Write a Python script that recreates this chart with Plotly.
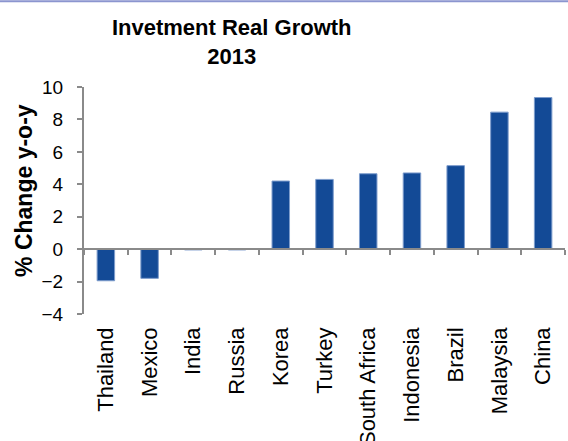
import plotly.graph_objects as go

countries = ["Thailand", "Mexico", "India", "Russia", "Korea", "Turkey",
             "South Africa", "Indonesia", "Brazil", "Malaysia", "China"]
growth = [-1.95, -1.8, -0.05, -0.05, 4.2, 4.3, 4.65, 4.7, 5.15, 8.45, 9.35]

y_min, y_max = -4, 10
axis_grey = "#8a8a8a"
font = "Liberation Sans, Arial, sans-serif"

fig = go.Figure()
fig.add_trace(go.Bar(
    x=countries, y=growth,
    marker=dict(color="#134a96", line=dict(color="#7d9ccc", width=1)),
    width=0.4,
))
# helper trace so the zero-level axis has categories
fig.add_trace(go.Scatter(x=countries, y=[0] * len(countries), xaxis="x2",
                         mode="lines", line=dict(width=0),
                         hoverinfo="skip"))

fig.update_layout(
    width=568, height=441,
    margin=dict(l=84, r=3, t=87, b=127),
    paper_bgcolor="white", plot_bgcolor="white",
    showlegend=False,
    font=dict(family=font, color="black"),
    title=dict(text="<b>Invetment Real Growth<br>2013</b>",
               x=0.408, xanchor="center", y=0.92, yanchor="top",
               font=dict(size=22)),
    xaxis=dict(range=[-0.5, len(countries) - 0.5],
               showline=False, ticks="", tickangle=-90, automargin=False,
               tickfont=dict(size=22), ticklabelstandoff=8,
               showgrid=False, zeroline=False),
    xaxis2=dict(overlaying="x", matches="x", anchor="free",
                position=(0 - y_min) / (y_max - y_min), automargin=False,
                showline=True, linecolor=axis_grey, linewidth=2,
                ticks="outside", tickson="boundaries", ticklen=5,
                tickcolor=axis_grey, tickwidth=2,
                showticklabels=False, showgrid=False),
    yaxis=dict(range=[y_min, y_max], dtick=2, showgrid=False, automargin=False,
               zeroline=False, showline=True, linecolor=axis_grey,
               linewidth=2, ticks="outside", ticklen=5,
               tickcolor=axis_grey, tickwidth=2,
               tickfont=dict(size=19), ticklabelstandoff=10),
    annotations=[dict(text="<b>% Change y-o-y</b>", textangle=-90,
                      xref="paper", yref="paper", x=-0.125, y=0.546,
                      xanchor="center", yanchor="middle",
                      showarrow=False, font=dict(size=23))],
    shapes=[dict(type="line", xref="paper", yref="paper",
                 x0=-0.2, x1=1.1, y0=1.378, y1=1.378,
                 line=dict(color="#8b95cf", width=2))],
)

fig.write_html("out.html", config={"displayModeBar": False},
               post_script="document.body.style.margin='0';")
